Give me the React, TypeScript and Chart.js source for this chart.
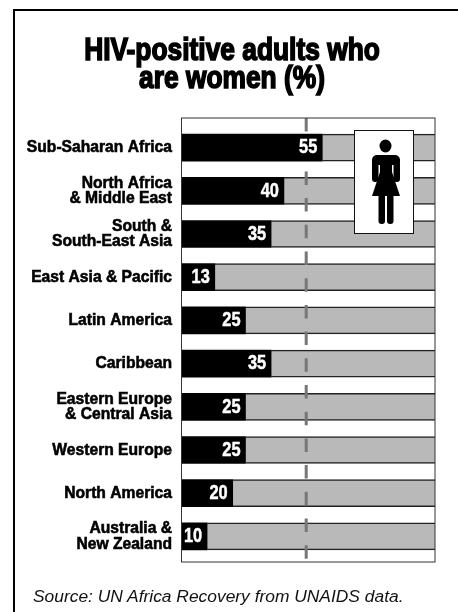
import React, { useEffect, useRef } from "react";
import { Chart, registerables } from "chart.js";

Chart.register(...registerables);

const categories: (string | string[])[] = [
  "Sub-Saharan Africa",
  ["North Africa", "& Middle East"],
  ["South &", "South-East Asia"],
  "East Asia & Pacific",
  "Latin America",
  "Caribbean",
  ["Eastern Europe", "& Central Asia"],
  "Western Europe",
  "North America",
  ["Australia &", "New Zealand"],
];
const womenShare = [55, 40, 35, 13, 25, 35, 25, 25, 20, 10];
const remainder = [45, 60, 65, 87, 75, 65, 75, 75, 80, 90];
const referenceValue = 48.7;
const titleLines = ["HIV-positive adults who", "are women (%)"];
const sourceText = "Source: UN Africa Recovery from UNAIDS data.";

const SANS = '"Liberation Sans", Arial, sans-serif';
const LABEL_SQUEEZE = 0.92;
const VALUE_SQUEEZE = 0.78;

const decorPlugin = {
  id: "decor",
  beforeDatasetsDraw(chart: any) {
    const { ctx, chartArea: a } = chart;
    ctx.save();
    ctx.fillStyle = "#fff";
    ctx.fillRect(a.left, a.top - 8, a.right - a.left, a.bottom - a.top + 12);
    ctx.restore();
  },
  afterDatasetDraw(chart: any, args: any) {
    if (args.index !== 1) return;
    const { ctx, chartArea: a, scales } = chart;
    const x = scales.x.getPixelForValue(referenceValue);
    ctx.save();
    ctx.strokeStyle = "#777";
    ctx.lineWidth = 3;
    ctx.setLineDash([13.5, 13.2]);
    ctx.beginPath();
    ctx.moveTo(x, a.top - 8);
    ctx.lineTo(x, a.bottom + 2);
    ctx.stroke();
    ctx.restore();
  },
  afterDatasetsDraw(chart: any) {
    const { ctx, chartArea: a } = chart;
    const bars = chart.getDatasetMeta(0).data;
    ctx.save();
    ctx.fillStyle = "#fff";
    ctx.font = `bold 21px ${SANS}`;
    ctx.textAlign = "right";
    ctx.textBaseline = "middle";
    ctx.strokeStyle = "#fff";
    ctx.lineWidth = 0.5;
    bars.forEach((b: any, i: number) => {
      ctx.save();
      ctx.translate(b.x - 5, b.y);
      ctx.scale(VALUE_SQUEEZE, 1);
      ctx.fillText(String(womenShare[i]), 0, 0);
      ctx.strokeText(String(womenShare[i]), 0, 0);
      ctx.restore();
    });
    // plot frame
    ctx.strokeStyle = "#333";
    ctx.lineWidth = 1;
    ctx.strokeRect(a.left, a.top - 8, a.right - a.left, a.bottom - a.top + 12);

    // pictogram panel
    ctx.fillStyle = "#fff";
    ctx.fillRect(354.5, 130.5, 59, 103);
    ctx.strokeStyle = "#111";
    ctx.strokeRect(354.5, 130.5, 59, 103);
    ctx.fillStyle = "#000";
    ctx.beginPath();
    ctx.ellipse(385.5, 146, 6, 6.5, 0, 0, Math.PI * 2);
    ctx.fill();
    ctx.beginPath();
    ctx.roundRect(372, 155, 28, 10, 5);
    ctx.fill();
    ctx.beginPath();
    ctx.roundRect(372, 158, 6.5, 24, 3);
    ctx.fill();
    ctx.beginPath();
    ctx.roundRect(393.5, 158, 6.5, 24, 3);
    ctx.fill();
    ctx.beginPath();
    ctx.moveTo(380, 158);
    ctx.lineTo(392, 158);
    ctx.lineTo(392, 172);
    ctx.lineTo(400, 196);
    ctx.lineTo(372, 196);
    ctx.lineTo(380, 172);
    ctx.closePath();
    ctx.fill();
    ctx.beginPath();
    ctx.roundRect(378.5, 194, 6.5, 30, 3);
    ctx.fill();
    ctx.beginPath();
    ctx.roundRect(387, 194, 6.5, 30, 3);
    ctx.fill();
    ctx.restore();
  },
};

export default function App() {
  const ref = useRef<HTMLCanvasElement>(null);
  useEffect(() => {
    const chart: any = new Chart(ref.current as HTMLCanvasElement, {
      type: "bar",
      plugins: [decorPlugin],
      data: {
        labels: categories as any,
        datasets: [
          { label: "Women", data: womenShare, backgroundColor: "#000", borderWidth: 0, order: 0, stack: "s", barThickness: 27 },
          {
            label: "Men",
            data: remainder,
            backgroundColor: "#b9b9b9",
            borderColor: "#222",
            borderWidth: { top: 1.5, bottom: 1.5, left: 0, right: 0 },
            borderSkipped: false,
            order: 1,
            stack: "s",
            barThickness: 27,
          },
        ],
      },
      options: {
        indexAxis: "y",
        responsive: false,
        animation: false,
        layout: { padding: { top: 126, bottom: 54, right: 23, left: 0 } },
        plugins: { legend: { display: false }, tooltip: { enabled: false } },
        scales: {
          x: { stacked: true, min: 0, max: 99, display: false },
          y: {
            stacked: true,
            grid: { display: false, drawTicks: false },
            border: { display: false },
            afterFit(s: any) {
              s.width = 181.5;
            },
            ticks: {
              color: "#000",
              padding: 9.5,
              autoSkip: false,
              font: { family: SANS, size: 17, weight: "bold", lineHeight: 0.91 },
              textStrokeColor: "#000",
              textStrokeWidth: 0.6,
            },
          },
        },
      } as any,
    });
    // condense the axis labels horizontally, anchored on their right edge
    const y = chart.scales.y;
    const drawLabels = y.drawLabels;
    y.drawLabels = function (area: any) {
      const c = this.ctx;
      const anchor = this.right - 9.5;
      c.save();
      c.translate(anchor, 0);
      c.scale(LABEL_SQUEEZE, 1);
      c.translate(-anchor, 0);
      drawLabels.call(this, area);
      c.restore();
    };
    chart.draw();
    return () => chart.destroy();
  }, []);
  return (
    <div style={{ position: "fixed", left: 0, top: 0, width: 458, height: 612, overflow: "hidden", background: "#fff" }}>
      <div style={{ position: "absolute", left: 13, top: 9, width: 460, height: 620, borderLeft: "2.5px solid #000", borderTop: "2.5px solid #000" }} />
      <canvas ref={ref} width={458} height={612} style={{ position: "absolute", left: 0, top: 0, display: "block", background: "transparent" }} />
      <div
        style={{
          position: "absolute",
          left: 0,
          top: 36,
          width: 464,
          textAlign: "center",
          fontFamily: SANS,
          fontWeight: "bold",
          fontSize: 31,
          lineHeight: "28px",
          color: "#000",
          WebkitTextStroke: "1.6px #000",
          transform: "scaleX(0.85)",
          transformOrigin: "232px 0",
          whiteSpace: "nowrap",
        }}
      >
        {titleLines.map((l) => (
          <div key={l}>{l}</div>
        ))}
      </div>
      <div
        style={{
          position: "absolute",
          left: 33,
          top: 586,
          whiteSpace: "nowrap",
          fontFamily: SANS,
          fontStyle: "italic",
          fontSize: 17.4,
          lineHeight: "20px",
          color: "#111",
        }}
      >
        {sourceText}
      </div>
    </div>
  );
}
